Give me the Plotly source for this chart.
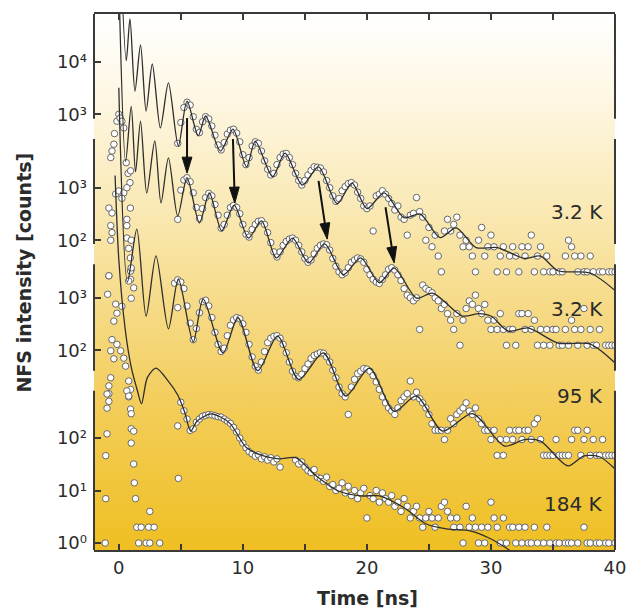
import base64
import numpy as np
import plotly.graph_objects as go

# ---------------------------------------------------------------------------
# NFS time spectra: four spectra stacked on one logarithmic axis.
# Binned counts start at T_START and are spaced DT ns apart (0 = empty bin).
# ---------------------------------------------------------------------------
DT = 0.25
T_START = 4.5

labels = ["3.2 K", "3.2 K", "95 K", "184 K"]
offsets = [5.165, 3.767, 1.67, 0.0]          # vertical shift of each spectrum, decades
tick_exponents = [[3, 4], [2, 3], [2, 3], [0, 1, 2]]
label_counts = [14, 4.9, 13.5, 5.5]          # height of the temperature labels (counts)

s1_counts = [0, 280,
             700, 1350, 1700, 1500, 900, 520, 450, 720, 900, 820, 600, 400,
             260, 210, 290, 420, 500, 520, 440, 300, 170, 110, 150, 250,
             300, 280, 200, 130, 90, 70, 75, 110, 150, 175, 180, 150,
             110, 75, 55, 45, 55, 70, 85, 100, 98, 95, 80, 55,
             40, 28, 22, 25, 35, 42, 48, 50, 45, 33, 25, 18,
             16, 18, 6, 28, 30, 35, 30, 25, 20, 15, 18, 11,
             10, 5, 12, 13, 26, 14, 11, 4, 7, 3, 5, 2,
             1, 6, 10, 6, 8, 11, 5, 3, 4, 3, 2, 1,
             4, 7, 2, 3, 5, 3, 1, 2, 3, 1, 2, 3,
             2, 1, 3, 2, 3, 5, 1, 2, 3, 1, 2, 1,
             1, 0, 1, 1, 2, 4, 3, 2, 1, 2, 1, 1,
             2, 1, 0, 1, 1, 0, 1, 1, 1]
s2_counts = [0, 250,
             900, 1400, 1550, 1300, 800, 420, 260, 400, 650, 780, 700, 480,
             300, 170, 200, 300, 420, 460, 420, 320, 200, 130, 115, 160,
             200, 230, 235, 200, 140, 90, 60, 48, 60, 80, 95, 105,
             110, 100, 80, 60, 45, 38, 42, 55, 70, 80, 85, 82,
             65, 45, 32, 25, 22, 24, 30, 38, 42, 46, 44, 38,
             28, 22, 18, 16, 15, 18, 22, 28, 30, 27, 22, 17,
             12, 9, 8, 7, 8, 2, 14, 12, 11, 10, 8, 7,
             5, 6, 4, 3, 2, 4, 1, 3, 5, 7, 6, 9,
             5, 4, 6, 3, 2, 3, 2, 4, 2, 1, 2, 2,
             1, 4, 4, 2, 4, 2, 3, 1, 2, 1, 2, 1,
             2, 2, 1, 1, 2, 1, 3, 2, 1, 2, 5, 1,
             2, 1, 1, 2, 0, 1, 1, 1, 1]
s3_counts = [1900, 2200,
             2000, 1500, 700, 330, 160, 260, 520, 850, 900, 700, 420, 220,
             130, 95, 110, 190, 300, 380, 420, 400, 320, 220, 130, 75,
             50, 42, 60, 95, 140, 170, 185, 190, 170, 130, 90, 60,
             40, 32, 30, 35, 45, 55, 70, 80, 85, 90, 88, 75,
             60, 42, 30, 20, 15, 13, 6, 20, 28, 36, 40, 45,
             44, 40, 33, 25, 18, 13, 10, 8, 7, 6, 8, 11,
             13, 15, 26, 13, 16, 12, 10, 8, 6, 4, 3, 3,
             3, 2, 3, 5, 4, 6, 7, 8, 10, 7, 6, 8,
             5, 4, 3, 3, 2, 3, 1, 2, 1, 2, 3, 2,
             3, 3, 2, 3, 3, 2, 4, 5, 2, 1, 1, 1,
             1, 2, 1, 1, 1, 1, 2, 3, 3, 1, 2, 3,
             1, 2, 1, 1, 2, 1, 1, 1, 1]
s4_counts = [0, 170,
             480, 330, 230, 140, 150, 200, 230, 260, 270, 280, 275, 265,
             255, 250, 230, 210, 190, 160, 130, 100, 80, 65, 55, 50,
             45, 48, 40, 44, 38, 42, 35, 40, 28, 0, 0, 0,
             0, 38, 32, 35, 28, 24, 22, 25, 18, 17, 15, 18,
             12, 13, 10, 11, 14, 9, 12, 8, 10, 7, 9, 11,
             3, 8, 7, 10, 6, 9, 7, 6, 8, 5, 6, 4,
             7, 5, 3, 4, 5, 3, 2, 3, 4, 3, 2, 3,
             5, 6, 4, 3, 2, 3, 2, 1, 5, 2, 3, 2,
             1, 2, 1, 2, 6, 3, 2, 1, 3, 1, 2, 2,
             1, 2, 1, 2, 1, 1, 2, 1, 0, 1, 2, 1,
             0, 1, 1, 0, 1, 1, 1, 0, 1, 0, 2, 1,
             1, 0, 1, 1, 0, 1, 1, 0, 1]

# Points of the prompt region and a few isolated points (time ns, counts)
s1_early_t = [-0.65, -0.55, -0.4, -0.35, -0.15, 0.0, 0.1, 0.25, 0.4, 0.6, 0.75, 0.9]
s1_early_n = [150, 200, 270, 430, 740, 1000, 850, 740, 550, 120, 75, 50]
s2_early_t = [-0.8, -0.55, -0.65, -0.55, -0.65, -0.25, 0.0, 0.4, 0.25, 0.65, 0.93,
              0.65, 0.65, 0.65, 1.0, 0.8, 0.93, 1.0, 0.95, -0.8, 0.95]
s2_early_n = [410, 330, 190, 140, 100, 760, 870, 800, 630, 1000, 410,
              250, 190, 110, 100, 70, 46, 28, 18, 21, 2100]
s3_early_t = [-0.8, -0.9, -0.25, 0.25, -0.15, -0.4, -0.55, -0.15, -0.65, 0.15, -0.4,
              0.4, 0.55, -0.65, 0.8, -0.8, 0.95, -0.8, 0.8, 1.0, 1.2, 0.95, 0.8, 1.0, 4.75]
s3_early_n = [2630, 1170, 760, 690, 510, 360, 160, 130, 98, 98, 69,
              71, 50, 30, 26, 21, 18, 15, 13, 980, 1550, 3240, 2090, 3720, 650]
s4_early_t = [-0.95, -0.8, -0.95, -0.95, -1.05, -1.05, -1.1, 0.65, 0.8, 0.95, 1.0, 1.0,
              1.2, 1.0, 1.2, 1.25, 1.35, 2.5, 1.45, 1.8, 2.4, 2.85, 1.6, 2.2, 2.5, 3.3, 4.8]
s4_early_n = [690, 500, 370, 120, 46, 7, 1, 790, 630, 355, 290, 150,
              135, 80, 32, 14, 7, 4, 2, 2, 2, 2, 1, 1, 1, 1, 17]

# Fitted curves (time ns, counts)
s1_fit_t = [0.0, 0.6, 0.9, 1.3, 1.75, 2.2, 2.7, 3.35, 4.0, 4.8, 5.5, 6.4, 7.0, 8.2, 9.2,
            10.3, 11.0, 12.4, 13.4, 14.8, 16.1, 17.6, 18.8, 20.0, 21.4, 23.0, 24.3,
            25.9, 27.2, 28.8, 30.5, 32.7, 34.0, 35.4, 38.0, 40.0]
s1_fit_n = [1e7, 10500, 66000, 2750, 20900, 1150, 9100, 550, 3980, 250, 1780, 390, 930,
            200, 525, 100, 310, 65, 182, 45, 100, 20, 49, 16, 32, 10.7, 12.6,
            4.5, 6.9, 2.9, 2.9, 1.8, 2.0, 1.05, 0.95, 0.44]
s2_fit_t = [0.0, 0.55, 1.0, 1.35, 1.75, 2.25, 2.9, 3.4, 4.0, 4.75, 5.5, 6.5, 7.3, 8.3,
            9.3, 10.45, 11.5, 12.7, 14.0, 15.3, 16.6, 18.1, 19.5, 21.0, 22.2, 24.0,
            25.3, 27.7, 29.0, 30.0, 31.4, 33.0, 35.4, 38.0, 40.0]
s2_fit_n = [1e7, 3160, 35500, 2000, 18600, 794, 7760, 513, 3720, 288, 1550, 214, 794,
            151, 468, 110, 234, 46, 110, 37, 85, 22, 46, 15.5, 29.5, 7.9,
            9.8, 3.6, 4.0, 3.6, 1.86, 2.14, 1.10, 1.05, 0.46]
s3_fit_t = [0.0, 0.7, 1.45, 2.2, 3.0, 4.0, 4.8, 6.0, 6.8, 8.4, 9.6, 11.2, 12.8, 14.5,
            16.5, 18.3, 20.2, 22.2, 24.0, 26.1, 28.5, 31.1, 32.7, 34.0, 36.2, 37.5,
            38.8, 40.0]
s3_fit_n = [1e7, 2000, 20400, 447, 6310, 257, 2290, 145, 955, 89, 417, 41, 186, 28,
            89, 13.5, 46, 6.9, 13.5, 2.9, 6.2, 1.5, 2.0, 1.86, 0.63, 0.98,
            0.93, 0.55]
s4_fit_t = [-0.3, 0.0, 0.5, 1.0, 1.5, 1.83, 2.3, 3.0, 4.0, 4.75, 5.3, 5.8, 6.3, 7.4,
            8.2, 9.0, 10.3, 11.6, 12.9, 14.3, 15.8, 17.7, 19.5, 21.0, 23.0, 24.8,
            26.4, 28.3, 29.8, 31.2, 33.0]
s4_fit_n = [1e7, 251000, 12600, 2240, 794, 447, 1410, 2140, 1200, 660, 316, 135, 209,
            288, 251, 186, 65, 46, 40, 42, 20, 9.8, 7.9, 7.9, 4.7, 2.3,
            1.86, 1.7, 1.26, 0.81, 0.40]

# Arrows from peaks of the upper 3.2 K spectrum to the shifted peaks below
arrow_t_from = [5.5, 9.2, 16.1, 21.5]
arrow_n_from = [850, 340, 54, 17]
arrow_t_to = [5.5, 9.35, 16.8, 22.2]
arrow_n_to = [1900, 510, 105, 37]

# Broken axis: for each spectrum the log10(count) span of its axis segment
axis_seg_lo = [2.915, 1.93, 1.61, None]
axis_seg_hi = [None, 3.93, 3.64, 2.90]

# ---------------------------------------------------------------------------
W, H = 638, 610
MARGIN = dict(l=94, r=13, t=13, b=60)
X_RANGE = [-2, 40]
Y_RANGE = [-0.133, 10.076]
INK = "#2b2b2b"
AXIS_INK = "#3a3a3a"
FONT = "DejaVu Sans"
SUPERSCRIPT = str.maketrans("0123456789", "⁰¹²³⁴⁵⁶⁷⁸⁹")

PLOT_W = W - MARGIN["l"] - MARGIN["r"]
PLOT_H = H - MARGIN["t"] - MARGIN["b"]


def to_paper_x(t):
    return (t - X_RANGE[0]) / (X_RANGE[1] - X_RANGE[0])


def to_paper_y(g):
    return (g - Y_RANGE[0]) / (Y_RANGE[1] - Y_RANGE[0])


counts_all = [s1_counts, s2_counts, s3_counts, s4_counts]
early_t = [s1_early_t, s2_early_t, s3_early_t, s4_early_t]
early_n = [s1_early_n, s2_early_n, s3_early_n, s4_early_n]
fits_t = [s1_fit_t, s2_fit_t, s3_fit_t, s4_fit_t]
fits_n = [s1_fit_n, s2_fit_n, s3_fit_n, s4_fit_n]

fig = go.Figure()

marker = dict(symbol="circle", size=6.5, color="white", line=dict(color="#666666", width=1))

for k in range(4):
    scale = 10 ** offsets[k]
    n = np.array(counts_all[k], dtype=float)
    t = T_START + DT * np.arange(len(n))
    keep = n > 0
    xs = np.concatenate([np.array(early_t[k]), t[keep]])
    ys = np.concatenate([np.array(early_n[k], dtype=float), n[keep]]) * scale
    fig.add_trace(go.Scatter(x=xs, y=ys, mode="markers", marker=marker,
                             showlegend=False, hoverinfo="skip"))

for k in range(4):
    scale = 10 ** offsets[k]
    fig.add_trace(go.Scatter(x=fits_t[k], y=np.array(fits_n[k]) * scale, mode="lines",
                             line=dict(color="#2e2e2e", width=1.3, shape="spline",
                                       smoothing=0.8),
                             showlegend=False, hoverinfo="skip"))

# y ticks: each spectrum carries its own decades
tickvals, ticktext = [], []
for k in range(4):
    for e in tick_exponents[k]:
        tickvals.append(10 ** (e + offsets[k]))
        ticktext.append("10" + str(e).translate(SUPERSCRIPT))

# temperature labels
for k in range(4):
    fig.add_annotation(x=39.2, y=np.log10(label_counts[k]) + offsets[k], text=labels[k],
                       showarrow=False, xanchor="right", yanchor="middle",
                       font=dict(family=FONT, size=20, color=INK))

shapes = []

# arrows (shaft + filled head), built in pixel space then mapped to paper fractions
HEAD_LEN, HEAD_HALF = 16.0, 5.0
for i in range(len(arrow_t_from)):
    g0 = np.log10(arrow_n_from[i]) + offsets[0]
    g1 = np.log10(arrow_n_to[i]) + offsets[1]
    p0 = np.array([to_paper_x(arrow_t_from[i]) * PLOT_W, to_paper_y(g0) * PLOT_H])
    p1 = np.array([to_paper_x(arrow_t_to[i]) * PLOT_W, to_paper_y(g1) * PLOT_H])
    u = (p1 - p0) / np.linalg.norm(p1 - p0)
    nrm = np.array([-u[1], u[0]])
    base = p1 - HEAD_LEN * u
    c1 = base + HEAD_HALF * nrm
    c2 = base - HEAD_HALF * nrm
    px = lambda p: (p[0] / PLOT_W, p[1] / PLOT_H)
    a, b = px(p0), px(base + 2 * u)
    shapes.append(dict(type="line", xref="paper", yref="paper", x0=a[0], y0=a[1],
                       x1=b[0], y1=b[1], line=dict(color="#111111", width=2)))
    q1, q2, q3 = px(p1), px(c1), px(c2)
    shapes.append(dict(type="path", xref="paper", yref="paper",
                       path=f"M{q1[0]},{q1[1]} L{q2[0]},{q2[1]} L{q3[0]},{q3[1]} Z",
                       fillcolor="#111111", line=dict(color="#111111", width=1)))

# broken left/right axis lines
for k in range(4):
    lo = Y_RANGE[0] if axis_seg_lo[k] is None else axis_seg_lo[k] + offsets[k]
    hi = Y_RANGE[1] if axis_seg_hi[k] is None else axis_seg_hi[k] + offsets[k]
    for xp in (0, 1):
        shapes.append(dict(type="line", xref="paper", yref="paper", x0=xp, x1=xp,
                           y0=to_paper_y(lo), y1=to_paper_y(hi),
                           line=dict(color=AXIS_INK, width=2)))

# background gradient of the plotting area
svg = ('<svg xmlns="http://www.w3.org/2000/svg" width="10" height="100" '
       'preserveAspectRatio="none"><defs><linearGradient id="g" x1="0" y1="0" x2="0" y2="1">'
       '<stop offset="0" stop-color="#ffffff"/>'
       '<stop offset="0.15" stop-color="#fef7e4"/>'
       '<stop offset="0.35" stop-color="#faeab8"/>'
       '<stop offset="0.55" stop-color="#f6da86"/>'
       '<stop offset="0.75" stop-color="#f3cc55"/>'
       '<stop offset="1" stop-color="#efbf22"/>'
       '</linearGradient></defs><rect width="10" height="100" fill="url(#g)"/></svg>')
bg_src = "data:image/svg+xml;base64," + base64.b64encode(svg.encode()).decode()

fig.update_layout(
    width=W, height=H,
    margin=MARGIN,
    paper_bgcolor="white",
    plot_bgcolor="rgba(0,0,0,0)",
    shapes=shapes,
    images=[dict(source=bg_src, xref="paper", yref="paper", x=0, y=1, sizex=1, sizey=1,
                 sizing="stretch", layer="below", xanchor="left", yanchor="top")],
    xaxis=dict(range=X_RANGE, tick0=0, dtick=10,
               ticks="inside", ticklen=6, tickwidth=1.5, tickcolor=AXIS_INK,
               minor=dict(dtick=5, ticks="inside", ticklen=6, tickwidth=1.5,
                          tickcolor=AXIS_INK, showgrid=False),
               showline=True, linewidth=2, linecolor=AXIS_INK, mirror="allticks",
               showgrid=False, zeroline=False,
               tickfont=dict(family=FONT, size=18, color=INK)),
    yaxis=dict(type="log", range=Y_RANGE, tickvals=tickvals, ticktext=ticktext,
               ticks="inside", ticklen=7, tickwidth=1.5, tickcolor=AXIS_INK,
               showline=False, showgrid=False, zeroline=False, ticklabelstandoff=6,
               tickfont=dict(family=FONT, size=18, color=INK)),
)

fig.add_annotation(xref="paper", yref="paper", x=0.524, y=-0.089, text="<b>Time [ns]</b>",
                   showarrow=False, xanchor="center", yanchor="middle",
                   font=dict(family=FONT, size=19, color=INK))
fig.add_annotation(xref="paper", yref="paper", x=-0.134, y=0.518,
                   text="<b>NFS intensity [counts]</b>", textangle=-90,
                   showarrow=False, xanchor="center", yanchor="middle",
                   font=dict(family=FONT, size=19, color=INK))

fig.write_html("out.html")
